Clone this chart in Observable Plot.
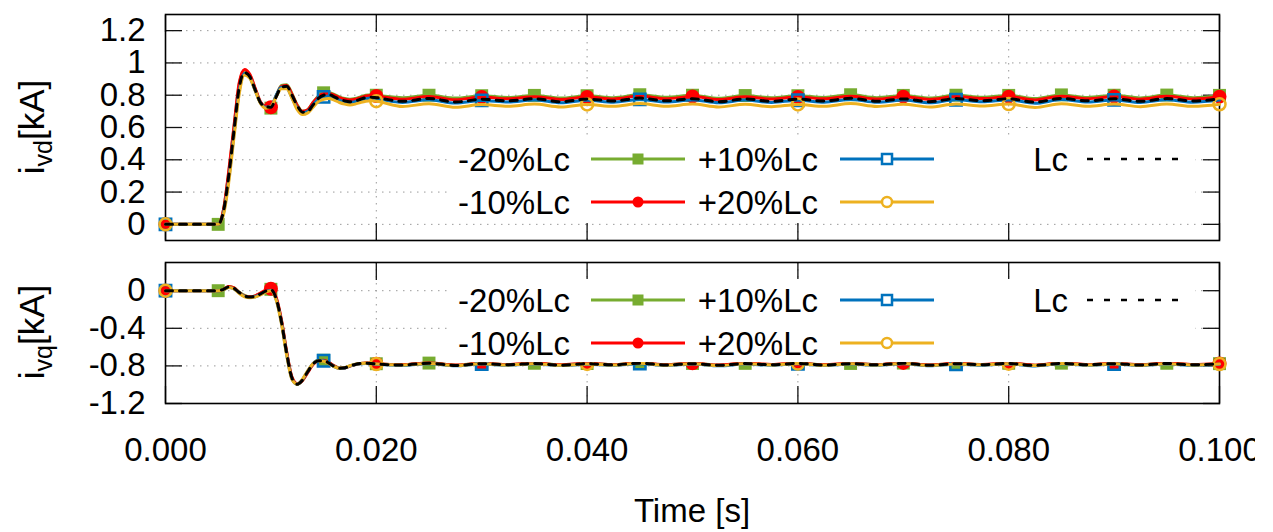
<!DOCTYPE html>
<html><head><meta charset="utf-8">
<script src="https://cdn.jsdelivr.net/npm/d3@7"></script>
<script src="https://cdn.jsdelivr.net/npm/@observablehq/plot@0.6"></script>
<style>
html,body{margin:0;padding:0;background:#fff;}
#chart{width:1255px;height:532px;overflow:hidden;background:#fff;}
#chart svg{display:block;}
</style></head><body><div id="chart"></div>
<script>
// ---- data ----
const time = [0, 0.0025, 0.005,
  0.0055, 0.006, 0.0065, 0.007, 0.0075, 0.008, 0.0085, 0.009, 0.0095, 0.010,
  0.0105, 0.011, 0.0115, 0.012, 0.0125, 0.013, 0.0135, 0.014, 0.0145, 0.015,
  0.0155, 0.016, 0.0165, 0.017, 0.0175, 0.018, 0.0185, 0.019, 0.0195, 0.020,
  0.0225, 0.025, 0.0275, 0.030, 0.0325, 0.035, 0.0375, 0.040,
  0.0425, 0.045, 0.0475, 0.050, 0.0525, 0.055, 0.0575, 0.060,
  0.0625, 0.065, 0.0675, 0.070, 0.0725, 0.075, 0.0775, 0.080,
  0.0825, 0.085, 0.0875, 0.090, 0.0925, 0.095, 0.0975, 0.100];

const seriesNames = ["-20%Lc", "-10%Lc", "+10%Lc", "+20%Lc", "Lc"];
const seriesColors = ["#77AC30", "#FF0000", "#0072BD", "#EDB120", "#000000"];
const markerStep = [0.005, 0.010, 0.015, 0.020, null];
const markerSymbol = ["square", "circle", "square", "circle", null];
const markerFilled = [true, true, false, false, false];

// i_vd [kA]
const ivdM20 = [0, 0, 0,
  0.09, 0.32, 0.60, 0.87, 0.955, 0.925, 0.84, 0.755, 0.725, 0.72,
  0.795, 0.86, 0.865, 0.81, 0.74, 0.70, 0.71, 0.755, 0.795, 0.815,
  0.815, 0.805, 0.79, 0.78, 0.775, 0.78, 0.79, 0.80, 0.803, 0.80,
  0.785, 0.800, 0.782, 0.797, 0.786, 0.799, 0.782, 0.797,
  0.785, 0.803, 0.787, 0.800, 0.781, 0.798, 0.784, 0.797,
  0.786, 0.803, 0.785, 0.799, 0.782, 0.800, 0.787, 0.799,
  0.779, 0.802, 0.786, 0.800, 0.783, 0.801, 0.785, 0.799];
const ivdM10 = [0, 0, 0,
  0.09, 0.33, 0.61, 0.88, 0.96, 0.93, 0.845, 0.76, 0.73, 0.725,
  0.795, 0.855, 0.86, 0.805, 0.735, 0.70, 0.71, 0.755, 0.79, 0.81,
  0.81, 0.80, 0.785, 0.775, 0.77, 0.775, 0.785, 0.795, 0.798, 0.795,
  0.775, 0.792, 0.772, 0.789, 0.778, 0.791, 0.774, 0.789,
  0.777, 0.795, 0.778, 0.792, 0.773, 0.790, 0.776, 0.789,
  0.778, 0.794, 0.776, 0.791, 0.774, 0.792, 0.779, 0.791,
  0.771, 0.794, 0.778, 0.792, 0.775, 0.793, 0.777, 0.791];
const ivdP10 = [0, 0, 0,
  0.07, 0.28, 0.56, 0.83, 0.935, 0.91, 0.83, 0.755, 0.725, 0.73,
  0.80, 0.85, 0.845, 0.785, 0.72, 0.69, 0.70, 0.74, 0.775, 0.79,
  0.795, 0.785, 0.77, 0.76, 0.755, 0.76, 0.77, 0.778, 0.782, 0.778,
  0.755, 0.772, 0.751, 0.768, 0.758, 0.771, 0.753, 0.769,
  0.757, 0.774, 0.758, 0.771, 0.753, 0.770, 0.755, 0.769,
  0.757, 0.774, 0.756, 0.770, 0.753, 0.772, 0.759, 0.771,
  0.750, 0.773, 0.758, 0.771, 0.755, 0.772, 0.757, 0.770];
const ivdP20 = [0, 0, 0,
  0.06, 0.26, 0.54, 0.81, 0.925, 0.905, 0.83, 0.75, 0.72, 0.73,
  0.79, 0.84, 0.84, 0.78, 0.71, 0.68, 0.69, 0.725, 0.76, 0.775,
  0.78, 0.77, 0.755, 0.745, 0.74, 0.745, 0.755, 0.763, 0.766, 0.763,
  0.730, 0.747, 0.725, 0.742, 0.732, 0.745, 0.727, 0.743,
  0.731, 0.748, 0.732, 0.745, 0.727, 0.744, 0.729, 0.743,
  0.731, 0.748, 0.730, 0.744, 0.727, 0.746, 0.733, 0.745,
  0.724, 0.747, 0.732, 0.745, 0.729, 0.746, 0.731, 0.744];
const ivdLc = [0, 0, 0,
  0.08, 0.30, 0.58, 0.85, 0.94, 0.915, 0.835, 0.755, 0.73, 0.725,
  0.79, 0.85, 0.855, 0.80, 0.735, 0.695, 0.70, 0.74, 0.78, 0.80,
  0.805, 0.79, 0.775, 0.765, 0.76, 0.765, 0.775, 0.785, 0.788, 0.785,
  0.762, 0.780, 0.758, 0.775, 0.765, 0.778, 0.760, 0.776,
  0.764, 0.782, 0.765, 0.778, 0.760, 0.777, 0.762, 0.776,
  0.764, 0.781, 0.763, 0.777, 0.760, 0.779, 0.766, 0.778,
  0.757, 0.780, 0.765, 0.778, 0.762, 0.779, 0.764, 0.777];

// i_vq [kA]
const ivqM20 = [0, 0, 0,
  0.015, 0.045, 0.03, -0.015, -0.05, -0.065, -0.055, -0.03, 0.0, 0.015,
  -0.08, -0.32, -0.66, -0.925, -0.995, -0.955, -0.865, -0.78, -0.74, -0.74,
  -0.765, -0.80, -0.822, -0.82, -0.80, -0.785, -0.775, -0.77, -0.772, -0.777,
  -0.787, -0.770, -0.792, -0.774, -0.786, -0.772, -0.790, -0.775,
  -0.787, -0.769, -0.788, -0.774, -0.792, -0.773, -0.786, -0.771,
  -0.789, -0.774, -0.787, -0.770, -0.791, -0.775, -0.785, -0.772,
  -0.793, -0.771, -0.786, -0.774, -0.789, -0.772, -0.787, -0.776];
const ivqM10 = [0, 0, 0,
  0.015, 0.045, 0.03, -0.02, -0.055, -0.065, -0.055, -0.025, 0.005, 0.02,
  -0.07, -0.31, -0.65, -0.92, -0.99, -0.955, -0.87, -0.785, -0.745, -0.74,
  -0.762, -0.80, -0.825, -0.822, -0.803, -0.786, -0.775, -0.77, -0.772, -0.776,
  -0.786, -0.768, -0.791, -0.772, -0.785, -0.770, -0.789, -0.773,
  -0.786, -0.767, -0.787, -0.772, -0.791, -0.771, -0.785, -0.769,
  -0.788, -0.772, -0.786, -0.768, -0.790, -0.773, -0.784, -0.770,
  -0.792, -0.769, -0.785, -0.772, -0.788, -0.770, -0.786, -0.774];
const ivqP10 = [0, 0, 0,
  0.01, 0.035, 0.02, -0.025, -0.06, -0.072, -0.065, -0.04, -0.01, 0.005,
  -0.095, -0.34, -0.68, -0.94, -0.995, -0.945, -0.855, -0.775, -0.74, -0.745,
  -0.772, -0.808, -0.828, -0.822, -0.80, -0.786, -0.777, -0.775, -0.778, -0.783,
  -0.795, -0.777, -0.799, -0.781, -0.793, -0.779, -0.797, -0.782,
  -0.794, -0.776, -0.795, -0.781, -0.799, -0.780, -0.793, -0.778,
  -0.796, -0.781, -0.794, -0.777, -0.798, -0.782, -0.792, -0.779,
  -0.800, -0.778, -0.793, -0.781, -0.796, -0.779, -0.794, -0.783];
const ivqP20 = [0, 0, 0,
  0.01, 0.035, 0.02, -0.03, -0.065, -0.075, -0.068, -0.045, -0.015, 0.0,
  -0.10, -0.35, -0.69, -0.945, -0.995, -0.94, -0.85, -0.775, -0.745, -0.75,
  -0.775, -0.808, -0.826, -0.818, -0.797, -0.783, -0.775, -0.773, -0.776, -0.781,
  -0.791, -0.774, -0.796, -0.778, -0.790, -0.776, -0.794, -0.779,
  -0.791, -0.773, -0.792, -0.778, -0.796, -0.777, -0.790, -0.775,
  -0.793, -0.778, -0.791, -0.774, -0.795, -0.779, -0.789, -0.776,
  -0.797, -0.775, -0.790, -0.778, -0.793, -0.776, -0.791, -0.780];
const ivqLc = [0, 0, 0,
  0.015, 0.04, 0.025, -0.02, -0.055, -0.068, -0.06, -0.035, -0.005, 0.01,
  -0.085, -0.33, -0.67, -0.93, -0.995, -0.95, -0.86, -0.78, -0.745, -0.745,
  -0.77, -0.805, -0.825, -0.82, -0.80, -0.785, -0.775, -0.772, -0.775, -0.78,
  -0.790, -0.772, -0.795, -0.776, -0.788, -0.774, -0.792, -0.777,
  -0.789, -0.771, -0.790, -0.776, -0.794, -0.775, -0.788, -0.773,
  -0.791, -0.776, -0.789, -0.772, -0.793, -0.777, -0.787, -0.774,
  -0.795, -0.773, -0.788, -0.776, -0.791, -0.774, -0.789, -0.778];

const ivdTicks = [0, 0.2, 0.4, 0.6, 0.8, 1, 1.2];
const ivqTicks = [0, -0.4, -0.8, -1.2];
const timeTicks = [0, 0.02, 0.04, 0.06, 0.08, 0.1];

// ---- drawing ----
const FONT = "'Liberation Sans', Arial, sans-serif";
const W = 1255, ML = 165, MR = 36;

function rowsOf(values, s) {
  return time.map((t, i) => ({t, v: values[i], s}));
}

function panel({series, yDomain, yTicks, height, marginTop, marginBottom, showX}) {
  const grid = {stroke: "#9a9a9a", strokeOpacity: 1, strokeWidth: 1, strokeDasharray: "1.5,5.5"};
  const tickStyle = {stroke: "#111", strokeWidth: 1.3, label: null, tickFormat: () => ""};
  const marks = [
    Plot.gridY(yTicks, grid),
    Plot.gridX(timeTicks, grid),
    Plot.axisY(yTicks, {anchor: "left", tickSize: 0, tickPadding: 20, tickFormat: d => String(d), label: null}),
    Plot.axisY(yTicks, {anchor: "left", tickSize: -17, ...tickStyle}),
    Plot.axisY(yTicks, {anchor: "right", tickSize: -17, ...tickStyle}),
    Plot.axisX(timeTicks, {anchor: "top", tickSize: -17, ...tickStyle}),
    Plot.axisX(timeTicks, {anchor: "bottom", tickSize: -17, ...tickStyle}),
    showX ? Plot.axisX(timeTicks, {anchor: "bottom", tickSize: 0, tickPadding: 34, tickFormat: d3.format(".3f"), label: null}) : null,
    Plot.frame({stroke: "#000", strokeWidth: 1.6})
  ];
  series.forEach((values, s) => {
    const rows = rowsOf(values, s);
    marks.push(Plot.line(rows, {
      x: "t", y: "v", stroke: seriesColors[s], strokeWidth: 3, curve: "monotone-x",
      strokeDasharray: s === 4 ? "7,7" : null
    }));
    if (markerStep[s]) {
      const step = markerStep[s];
      const pts = rows.filter(d => Math.abs(d.t / step - Math.round(d.t / step)) < 1e-6);
      const sq = markerSymbol[s] === "square";
      marks.push(Plot.dot(pts, {
        x: "t", y: "v", symbol: markerSymbol[s],
        r: markerFilled[s] ? (sq ? 7.3 : 7) : (sq ? 6.4 : 6),
        fill: markerFilled[s] ? seriesColors[s] : "none",
        stroke: markerFilled[s] ? "none" : seriesColors[s],
        strokeWidth: 2.5
      }));
    }
  });
  return Plot.plot({
    width: W, height, marginLeft: ML, marginRight: MR, marginTop, marginBottom,
    x: {domain: [0, 0.1]},
    y: {domain: yDomain},
    style: {fontFamily: FONT, fontSize: "33px", color: "#000", background: "#fff", overflow: "visible"},
    marks
  });
}

// legend layout (pixel positions within each panel svg)
const legendTextEnd = [570, 818, 1068];
const legendSampleStart = [591, 840, 1087];
const legendSampleWidth = 94;

function addLegend(svg, rowY, box) {
  const g = d3.select(svg).append("g").attr("font-family", FONT).attr("font-size", 33);
  g.append("rect").attr("x", box[0]).attr("y", box[1]).attr("width", box[2] - box[0]).attr("height", box[3] - box[1]).attr("fill", "#fff");
  seriesNames.forEach((name, s) => {
    const col = Math.floor(s / 2), row = s % 2;
    const y = rowY[row];
    g.append("text").attr("x", legendTextEnd[col]).attr("y", y).attr("dy", "0.36em")
      .attr("text-anchor", "end").attr("fill", "#000").text(name);
    const x0 = legendSampleStart[col], x1 = x0 + legendSampleWidth, xm = (x0 + x1) / 2;
    g.append("line").attr("x1", x0).attr("x2", x1).attr("y1", y).attr("y2", y)
      .attr("stroke", seriesColors[s]).attr("stroke-width", s === 4 ? 2.5 : 3)
      .attr("stroke-dasharray", s === 4 ? "6,11" : null);
    if (markerSymbol[s] === "square") {
      const a = markerFilled[s] ? 11 : 10;
      g.append("rect").attr("x", xm - a / 2).attr("y", y - a / 2).attr("width", a).attr("height", a)
        .attr("fill", markerFilled[s] ? seriesColors[s] : "#fff")
        .attr("stroke", markerFilled[s] ? "none" : seriesColors[s]).attr("stroke-width", 2.5);
    } else if (markerSymbol[s] === "circle") {
      g.append("circle").attr("cx", xm).attr("cy", y).attr("r", markerFilled[s] ? 5.5 : 5)
        .attr("fill", markerFilled[s] ? seriesColors[s] : "#fff")
        .attr("stroke", markerFilled[s] ? "none" : seriesColors[s]).attr("stroke-width", 2.5);
    }
  });
}

function addYLabel(svg, cx, cy, sub) {
  const t = d3.select(svg).append("text")
    .attr("transform", `translate(${cx},${cy}) rotate(-90)`)
    .attr("text-anchor", "middle").attr("font-family", FONT).attr("font-size", 35).attr("fill", "#000");
  t.append("tspan").text("i");
  t.append("tspan").attr("dy", 8).attr("font-size", 25).text(sub);
  t.append("tspan").attr("dy", -8).text("[kA]");
}

const topPlot = panel({
  series: [ivdM20, ivdM10, ivdP10, ivdP20, ivdLc],
  yDomain: [-0.1, 1.3], yTicks: ivdTicks,
  height: 250, marginTop: 14, marginBottom: 10, showX: false
});
const bottomPlot = panel({
  series: [ivqM20, ivqM10, ivqP10, ivqP20, ivqLc],
  yDomain: [-1.2, 0.3], yTicks: ivqTicks,
  height: 282, marginTop: 12, marginBottom: 129, showX: true
});

addLegend(topPlot, [159, 202], [450, 138, 1195, 221]);
addLegend(bottomPlot, [50, 93], [450, 29, 1195, 112]);
addYLabel(topPlot, 44, 127, "vd");
addYLabel(bottomPlot, 44, 82, "vq");

d3.select(bottomPlot).append("text").attr("x", ML + (W - ML - MR) / 2).attr("y", 272)
  .attr("text-anchor", "middle").attr("font-family", FONT).attr("font-size", 33).attr("fill", "#000")
  .text("Time [s]");

document.getElementById("chart").append(topPlot, bottomPlot);
</script></body></html>
